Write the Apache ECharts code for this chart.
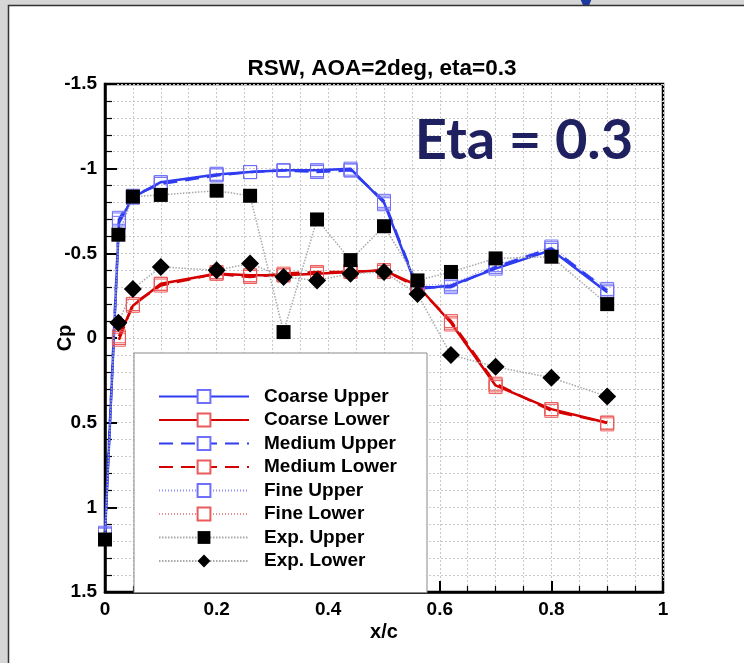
<!DOCTYPE html>
<html>
<head>
<meta charset="utf-8">
<script src="https://cdn.jsdelivr.net/npm/echarts@6/dist/echarts.min.js"></script>
<style>
  html, body { margin: 0; padding: 0; background: #d6d6d6; }
  #chart { width: 744px; height: 663px; }
</style>
</head>
<body>
<div id="chart"></div>
<script>
// x/c stations for the CFD grids
const xUpper = [0, 0.025, 0.05, 0.1, 0.2, 0.26, 0.32, 0.38, 0.44, 0.5, 0.56, 0.62, 0.7, 0.8, 0.9]
const xLower = [0.025, 0.05, 0.1, 0.2, 0.26, 0.32, 0.38, 0.44, 0.5, 0.56, 0.62, 0.7, 0.8, 0.9]

const coarseUpper = [1.16, -0.68, -0.83, -0.92, -0.965, -0.98, -0.99, -0.99, -1.0, -0.8, -0.29, -0.31, -0.41, -0.52, -0.27]
const coarseLower = [-0.01, -0.19, -0.32, -0.38, -0.37, -0.37, -0.38, -0.39, -0.4, -0.31, -0.09, 0.28, 0.42, 0.5]
const mediumUpper = [1.15, -0.7, -0.84, -0.91, -0.96, -0.98, -0.99, -0.98, -0.99, -0.81, -0.3, -0.3, -0.42, -0.53, -0.28]
const mediumLower = [0.01, -0.2, -0.31, -0.38, -0.36, -0.38, -0.39, -0.39, -0.4, -0.3, -0.1, 0.27, 0.43, 0.5]
const fineUpper = [1.16, -0.71, -0.83, -0.92, -0.97, -0.98, -0.99, -0.99, -0.99, -0.79, -0.31, -0.32, -0.43, -0.54, -0.29]
const fineLower = [0.0, -0.2, -0.32, -0.39, -0.37, -0.37, -0.38, -0.4, -0.39, -0.31, -0.08, 0.29, 0.42, 0.51]

// experiment
const xExpUpper = [0, 0.024, 0.05, 0.1, 0.2, 0.26, 0.32, 0.38, 0.44, 0.5, 0.56, 0.62, 0.7, 0.8, 0.9]
const expUpper = [1.19, -0.61, -0.835, -0.845, -0.87, -0.84, -0.035, -0.7, -0.46, -0.66, -0.34, -0.39, -0.47, -0.48, -0.2]
const xExpLower = [0.024, 0.05, 0.1, 0.2, 0.26, 0.32, 0.38, 0.44, 0.5, 0.56, 0.62, 0.7, 0.8, 0.9]
const expLower = [-0.09, -0.29, -0.42, -0.4, -0.44, -0.36, -0.34, -0.38, -0.39, -0.26, 0.1, 0.17, 0.235, 0.345]

const legendNames = ['Coarse Upper', 'Coarse Lower', 'Medium Upper', 'Medium Lower', 'Fine Upper', 'Fine Lower', 'Exp. Upper', 'Exp. Lower']

const BLUE = '#2f3cf0'
const RED = '#d40000'
const BLUE_MK = '#6f6ffa'
const RED_MK = '#ec5b5b'
const FONT = '"Liberation Sans", Arial, sans-serif'

const pts = (xs, ys) => xs.map((x, i) => [x, ys[i]])

const cfdSeries = (name, xs, ys, lineColor, markColor, lineType, lineWidth) => ({
  name,
  type: 'line',
  data: pts(xs, ys),
  symbol: 'rect',
  symbolSize: 13,
  showAllSymbol: true,
  lineStyle: { color: lineColor, width: lineWidth, type: lineType },
  itemStyle: { color: 'rgba(255,255,255,0)', borderColor: markColor, borderWidth: 1 },
  emphasis: { disabled: true }
})

const chart = echarts.init(document.getElementById('chart'))

const option = {
  animation: false,
  backgroundColor: '#d6d6d6',
  textStyle: { fontFamily: FONT },
  graphic: [
    { type: 'text', z: -20, x: 586, y: -30, style: { text: 'y', fontSize: 46, fontWeight: 'bold', fill: '#1f3a9e', fontFamily: 'Lato', align: 'center' } },
    { type: 'rect', z: -10, shape: { x: 8.5, y: 5.5, width: 800, height: 700 }, style: { fill: '#fff', stroke: '#333', lineWidth: 1.5 } },
    { type: 'text', z: 50, x: 382, y: 68.5, style: { text: 'RSW, AOA=2deg, eta=0.3', fontSize: 22.5, fontWeight: 'bold', fill: '#000', fontFamily: FONT, align: 'center', verticalAlign: 'middle' } },
    { type: 'text', z: 100, x: 524, y: 113, style: { text: 'Eta = 0.3', fontSize: 56, fontWeight: 'bold', fill: '#1f2060', fontFamily: 'Lato', align: 'center' } }
  ],
  grid: {
    left: 105, top: 84, width: 558, height: 508,
    show: true, borderColor: '#000', borderWidth: 2.5, backgroundColor: 'transparent'
  },
  legend: {
    data: legendNames.map((n) => {
      if (n.startsWith('Exp')) return { name: n }
      return { name: n, itemStyle: { color: '#fff' } }
    }),
    orient: 'vertical',
    left: 134,
    top: 353,
    padding: [34, 30, 22, 24],
    itemWidth: 90,
    itemHeight: 16,
    itemGap: 4.5,
    backgroundColor: '#fff',
    borderColor: '#8a8a8a',
    borderWidth: 1,
    selectedMode: false,
    textStyle: { fontSize: 19, fontWeight: 'bold', color: '#000', lineHeight: 16, padding: [0, 0, 0, 10], fontFamily: FONT }
  },
  xAxis: {
    type: 'value',
    min: 0, max: 1, interval: 0.2,
    name: 'x/c',
    nameLocation: 'middle',
    nameGap: 30,
    nameMoveOverlap: false,
    nameTextStyle: { fontSize: 20, fontWeight: 'bold', color: '#000', fontFamily: FONT },
    axisLine: { show: true, onZero: false, lineStyle: { color: '#000', width: 2.5 } },
    axisTick: { inside: true, length: 11, lineStyle: { color: '#000', width: 2 } },
    minorTick: { show: true, splitNumber: 4, length: 6, lineStyle: { color: '#000', width: 1.2 } },
    axisLabel: { fontSize: 19, fontWeight: 'bold', color: '#000', margin: 8, fontFamily: FONT },
    splitLine: { show: true, lineStyle: { color: '#c9c9c9', width: 1, type: [2, 2] } },
    minorSplitLine: { show: true, lineStyle: { color: '#c9c9c9', width: 1, type: [2, 2] } }
  },
  yAxis: {
    type: 'value',
    inverse: true,
    min: -1.5, max: 1.5, interval: 0.5,
    name: 'Cp',
    nameLocation: 'middle',
    nameGap: 30,
    nameMoveOverlap: false,
    nameTextStyle: { fontSize: 20, fontWeight: 'bold', color: '#000', fontFamily: FONT },
    axisLine: { show: true, onZero: false, lineStyle: { color: '#000', width: 2.5 } },
    axisTick: { inside: true, length: 12, lineStyle: { color: '#000', width: 2 } },
    minorTick: { show: true, splitNumber: 5, length: 7, lineStyle: { color: '#000', width: 1.2 } },
    axisLabel: { fontSize: 19, fontWeight: 'bold', color: '#000', margin: 8, fontFamily: FONT },
    splitLine: { show: true, lineStyle: { color: '#c9c9c9', width: 1, type: [2, 2] } },
    minorSplitLine: { show: true, lineStyle: { color: '#c9c9c9', width: 1, type: [2, 2] } }
  },
  series: [
    cfdSeries('Fine Upper', xUpper, fineUpper, '#8f8ff8', BLUE_MK, [1, 2], 1),
    cfdSeries('Fine Lower', xLower, fineLower, '#f08f8f', RED_MK, [1, 2], 1),
    cfdSeries('Medium Upper', xUpper, mediumUpper, BLUE, BLUE_MK, [14, 8], 2.5),
    cfdSeries('Medium Lower', xLower, mediumLower, RED, RED_MK, [14, 8], 2.5),
    cfdSeries('Coarse Upper', xUpper, coarseUpper, BLUE, BLUE_MK, 'solid', 2.5),
    cfdSeries('Coarse Lower', xLower, coarseLower, RED, RED_MK, 'solid', 2.5),
    {
      name: 'Exp. Upper',
      type: 'line',
      data: pts(xExpUpper, expUpper),
      symbol: 'rect',
      symbolSize: 14,
      lineStyle: { color: '#a8a8a8', width: 1.5, type: [1.5, 1.5] },
      itemStyle: { color: '#000' },
      emphasis: { disabled: true }
    },
    {
      name: 'Exp. Lower',
      type: 'line',
      data: pts(xExpLower, expLower),
      symbol: 'diamond',
      symbolSize: 18,
      lineStyle: { color: '#a8a8a8', width: 1.5, type: [1.5, 1.5] },
      itemStyle: { color: '#000' },
      emphasis: { disabled: true }
    }
  ]
}

chart.setOption(option)
</script>
</body>
</html>
